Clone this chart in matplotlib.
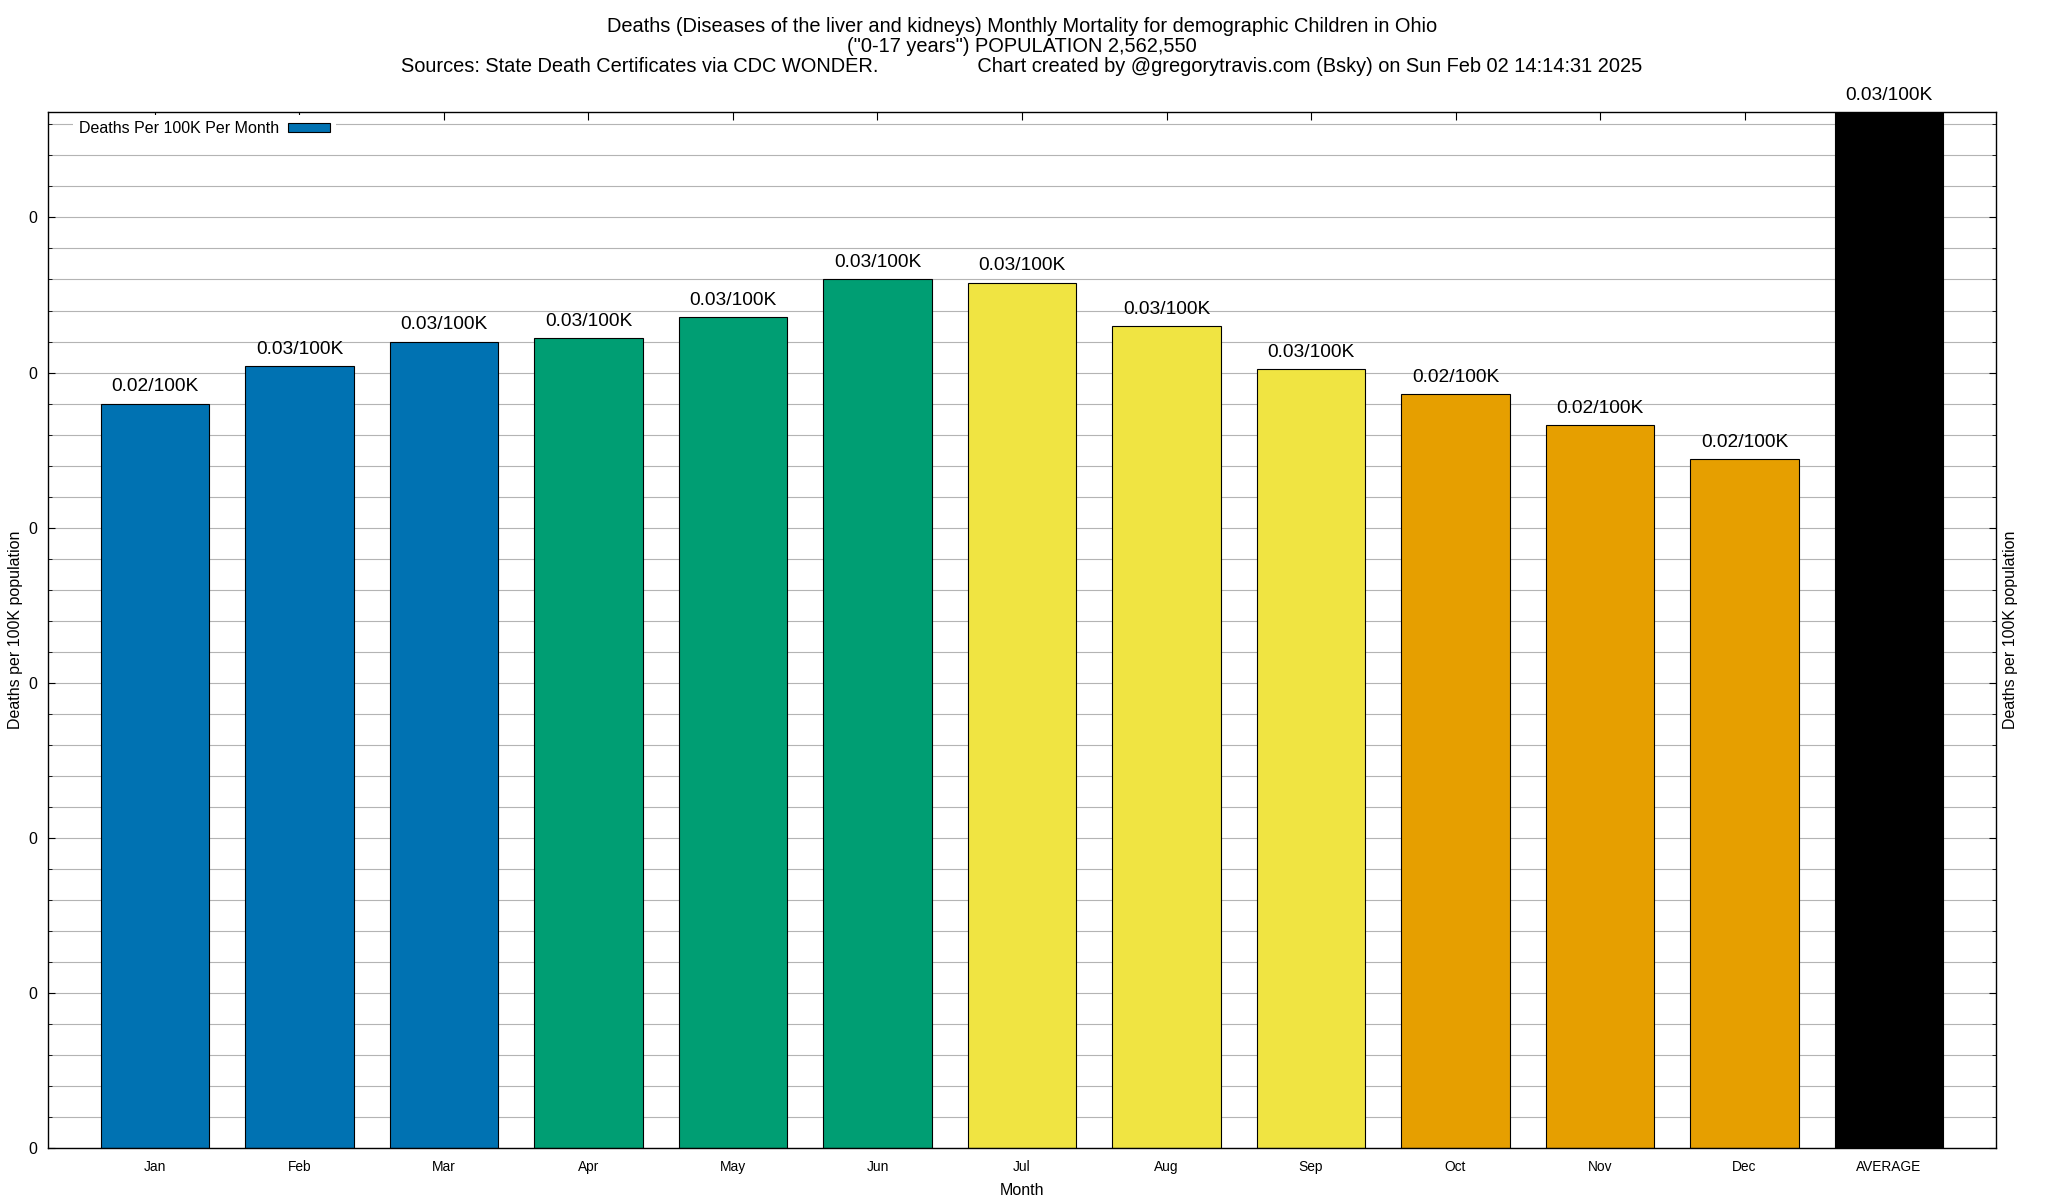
import matplotlib
matplotlib.use('Agg')
import matplotlib.pyplot as plt
from matplotlib.ticker import MultipleLocator, FormatStrFormatter

# plot settings (gnuplot look: Helvetica-like font, inward ticks)
plt.rcParams.update({
    'font.family': ['Liberation Sans', 'DejaVu Sans'],
    'savefig.dpi': 100,
    'figure.dpi': 100,
    'xtick.direction': 'in',
    'ytick.direction': 'in',
    'axes.linewidth': 1.0,
})

# data
months = ['Jan', 'Feb', 'Mar', 'Apr', 'May', 'Jun', 'Jul', 'Aug', 'Sep', 'Oct', 'Nov', 'Dec', 'AVERAGE']
rates = [0.0240, 0.0252, 0.0260, 0.0261, 0.0268, 0.0280, 0.0279, 0.0265, 0.0251, 0.0243, 0.0233, 0.0222, 0.0334]
bar_colors = ['#0072b2'] * 3 + ['#009e73'] * 3 + ['#f0e442'] * 3 + ['#e69f00'] * 3 + ['#000000']
legend_label = 'Deaths Per 100K Per Month'
y_label = 'Deaths per 100K population'
x_label = 'Month'
title_lines = [
    'Deaths (Diseases of the liver and kidneys) Monthly Mortality for demographic Children in Ohio',
    '("0-17 years") POPULATION 2,562,550',
    'Sources: State Death Certificates via CDC WONDER.' + ' ' * 18
    + 'Chart created by @gregorytravis.com (Bsky) on Sun Feb 02 14:14:31 2025',
]

fig = plt.figure(figsize=(20.48, 12))
ax = fig.add_axes([48 / 2048, 52 / 1200, 1948 / 2048, 1036 / 1200])

x = list(range(len(months)))
bars = ax.bar(x, rates, width=0.75, color=bar_colors, edgecolor='black', linewidth=0.8, zorder=2)

# value labels above each bar
for xi, v in zip(x, rates):
    ax.annotate('%.2f/100K' % v, xy=(xi, v), xytext=(0, 12), textcoords='offset points',
                ha='center', va='center', fontsize=13.8, annotation_clip=False)

ax.set_xlim(-0.74, len(months) - 1 + 0.74)
ax.set_ylim(0, max(rates))
ax.set_xticks(x)
ax.set_xticklabels(months)
ax.yaxis.set_major_locator(MultipleLocator(0.005))
ax.yaxis.set_minor_locator(MultipleLocator(0.001))
ax.yaxis.set_major_formatter(FormatStrFormatter('%.0f'))

ax.tick_params(axis='x', bottom=False, top=True, labelsize=9.9, pad=8.5, length=6)
ax.tick_params(axis='y', which='major', left=True, right=True, labelsize=11.5, pad=8, length=5)
ax.tick_params(axis='y', which='minor', left=True, right=True, length=3)
ax.grid(axis='y', which='both', color='#b4b4b4', linewidth=0.8)
ax.set_axisbelow(True)

ax.set_xlabel(x_label, fontsize=11.5, labelpad=6.5)
fig.text(16 / 2048, 0.475, y_label, rotation=90, ha='center', va='center', fontsize=11.5)
fig.text(2010 / 2048, 0.475, y_label, rotation=90, ha='center', va='center', fontsize=11.5)

# legend: text first, swatch after (gnuplot key style)
leg = ax.legend([bars[0]], [legend_label], loc='upper left', bbox_to_anchor=(0.0128, 0.997),
                borderaxespad=0, markerfirst=False, fontsize=11.5, handlelength=2.6,
                handleheight=0.5, handletextpad=0.56, frameon=True, fancybox=False)
leg.get_frame().set_edgecolor('none')
leg.get_frame().set_facecolor('white')
leg.get_frame().set_alpha(1)

for i, line in enumerate(title_lines):
    fig.text(0.499, 1 - (26.5 + 19.8 * i) / 1200, line, ha='center', va='center', fontsize=14.4)

plt.savefig('out.png')
